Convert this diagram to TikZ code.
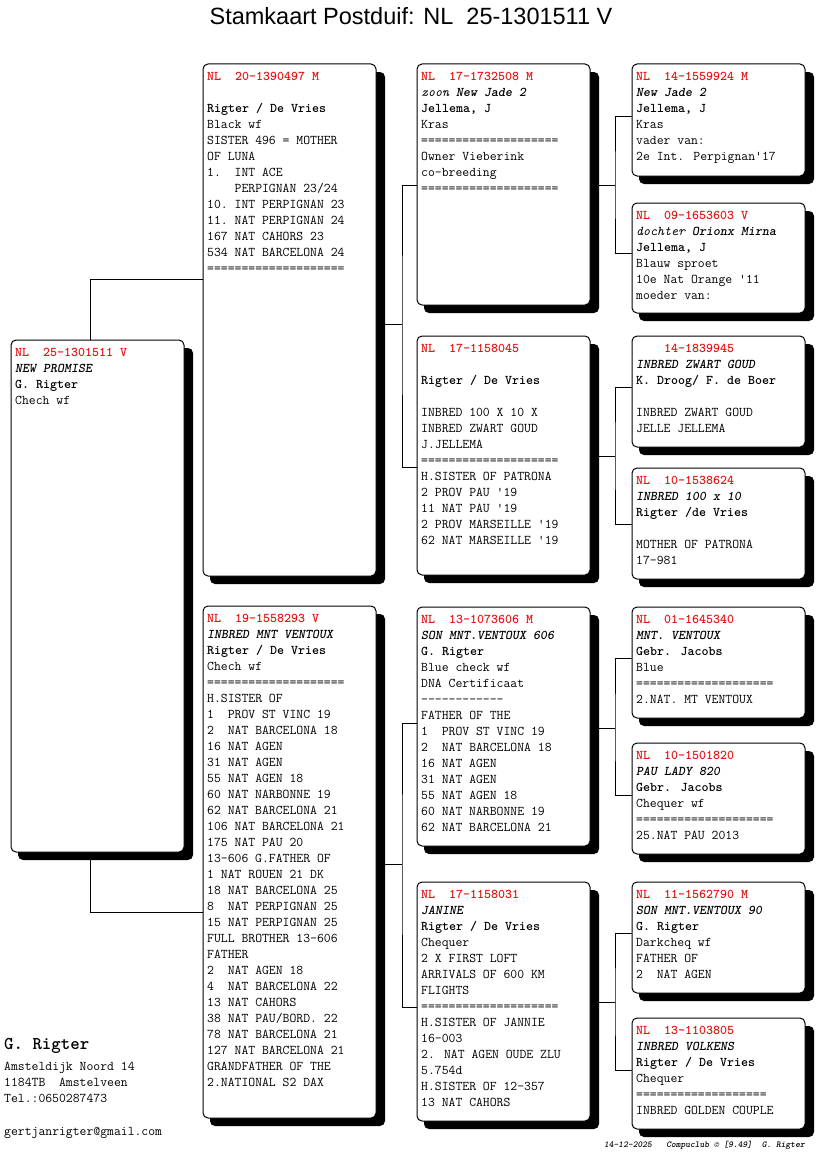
\documentclass[tikz,border=0pt]{standalone}
\usepackage{fontspec}
\setmainfont{Liberation Sans}
\definecolor{pred}{RGB}{228,18,18}
\pgfdeclarelayer{bg}
\pgfsetlayers{bg,main}
\newcommand\rd[1]{{\color{pred}\bfseries #1}}
\newcommand\bi[1]{{\bfseries\itshape #1}}
\newcommand\bd[1]{{\bfseries #1}}
\newcommand\ii[1]{{\itshape #1}}
\newcommand\dashline{-{}-{}-{}-{}-{}-{}-{}-{}-{}-{}-{}-}
\tikzset{
  cardbox/.style={draw=black, line width=1pt, fill=white, rounded corners=5pt, anchor=north west, minimum width=173pt, inner sep=0pt, outer sep=0pt},
  shadowbox/.style={fill=black, rounded corners=5pt},
  cardtext/.style={anchor=north west, inner sep=0pt, align=left, font=\ttfamily\fontsize{13.33}{16}\selectfont},
  link/.style={draw=black, line width=1pt},
  smalltext/.style={anchor=base west, inner sep=0pt, font=\ttfamily\fontsize{13.33}{16}\selectfont},
}
% name, x, ytop, ybottom, text
\newcommand\pcard[5]{%
  \fill[shadowbox] (#2+7,#3+8) rectangle (#2+182,#4+8);
  \node[cardbox, minimum height={#4-#3}] (#1) at (#2,#3) {};
  \node[cardtext] (#1-t) at (#2+4,#3+6) {\rule{0pt}{10pt}#5};
}
\begin{document}
\begin{tikzpicture}[x=1pt,y=-1pt]
\useasboundingbox (0,0) rectangle (816,1172);

\node[anchor=base, inner sep=0pt, font=\fontsize{23.5}{27}\selectfont] (title) at (411,25) {Stamkaart Postduif: NL~~25-1301511 V};

% subject
\pcard{s}{11}{340}{852}{\rd{NL~~25-1301511 V}\\ \bi{NEW PROMISE}\\ \bd{G. Rigter}\\ Chech wf}

% parents
\pcard{f}{203}{64}{576}{\rd{NL~~20-1390497 M}\\[16pt] \bd{Rigter / De Vries}\\ Black wf\\ SISTER 496 = MOTHER\\ OF LUNA\\ 1.~~INT ACE\\ ~~~~PERPIGNAN 23/24\\ 10.~INT PERPIGNAN 23\\ 11.~NAT PERPIGNAN 24\\ 167 NAT CAHORS 23\\ 534 NAT BARCELONA 24\\ ====================}

\pcard{m}{203}{606}{1118}{\rd{NL~~19-1558293 V}\\ \bi{INBRED MNT VENTOUX}\\ \bd{Rigter / De Vries}\\ Chech wf\\ ====================\\ H.SISTER OF\\ 1~~PROV ST VINC 19\\ 2~~NAT BARCELONA 18\\ 16 NAT AGEN\\ 31 NAT AGEN\\ 55 NAT AGEN 18\\ 60 NAT NARBONNE 19\\ 62 NAT BARCELONA 21\\ 106 NAT BARCELONA 21\\ 175 NAT PAU 20\\ 13-606 G.FATHER OF\\ 1 NAT ROUEN 21 DK\\ 18 NAT BARCELONA 25\\ 8~~NAT PERPIGNAN 25\\ 15 NAT PERPIGNAN 25\\ FULL BROTHER 13-606\\ FATHER\\ 2~~NAT AGEN 18\\ 4~~NAT BARCELONA 22\\ 13 NAT CAHORS\\ 38 NAT PAU/BORD. 22\\ 78 NAT BARCELONA 21\\ 127 NAT BARCELONA 21\\ GRANDFATHER OF THE\\ 2.NATIONAL S2 DAX}

% grandparents
\pcard{b1}{417}{64}{305}{\rd{NL~~17-1732508 M}\\ \ii{zoon} \bi{New Jade 2}\\ \bd{Jellema, J}\\ Kras\\ ====================\\ Owner Vieberink\\ co-breeding\\ ====================}

\pcard{b2}{417}{336}{575}{\rd{NL~~17-1158045}\\[16pt] \bd{Rigter / De Vries}\\[16pt] INBRED 100 X 10 X\\ INBRED ZWART GOUD\\ J.JELLEMA\\ ====================\\ H.SISTER OF PATRONA\\ 2 PROV PAU '19\\ 11 NAT PAU '19\\ 2 PROV MARSEILLE '19\\ 62 NAT MARSEILLE '19}

\pcard{b3}{417}{607}{846}{\rd{NL~~13-1073606 M}\\ \bi{SON MNT.VENTOUX 606}\\ \bd{G. Rigter}\\ Blue check wf\\ DNA Certificaat\\ \dashline\\ FATHER OF THE\\ 1~~PROV ST VINC 19\\ 2~~NAT BARCELONA 18\\ 16 NAT AGEN\\ 31 NAT AGEN\\ 55 NAT AGEN 18\\ 60 NAT NARBONNE 19\\ 62 NAT BARCELONA 21}

\pcard{b4}{417}{882}{1121}{\rd{NL~~17-1158031}\\ \bi{JANINE}\\ \bd{Rigter / De Vries}\\ Chequer\\ 2 X FIRST LOFT\\ ARRIVALS OF 600 KM\\ FLIGHTS\\ ====================\\ H.SISTER OF JANNIE\\ 16-003\\ 2. NAT AGEN OUDE ZLU\\ 5.754d\\ H.SISTER OF 12-357\\ 13 NAT CAHORS}

% great-grandparents
\pcard{c1}{632}{64}{176}{\rd{NL~~14-1559924 M}\\ \bi{New Jade 2}\\ \bd{Jellema, J}\\ Kras\\ vader van:\\ 2e Int. Perpignan'17}
\pcard{c2}{632}{203}{313}{\rd{NL~~09-1653603 V}\\ \ii{dochter} \bi{Orionx Mirna}\\ \bd{Jellema, J}\\ Blauw sproet\\ 10e Nat Orange '11\\ moeder van:}
\pcard{c3}{632}{336}{447}{\rd{~~~~14-1839945}\\ \bi{INBRED ZWART GOUD}\\ \bd{K. Droog/ F. de Boer}\\[16pt] INBRED ZWART GOUD\\ JELLE JELLEMA}
\pcard{c4}{632}{468}{579}{\rd{NL~~10-1538624}\\ \bi{INBRED 100 x 10}\\ \bd{Rigter /de Vries}\\[16pt] MOTHER OF PATRONA\\ 17-981}
\pcard{c5}{632}{607}{718}{\rd{NL~~01-1645340}\\ \bi{MNT. VENTOUX}\\ \bd{Gebr. Jacobs}\\ Blue\\ ====================\\ 2.NAT. MT VENTOUX}
\pcard{c6}{632}{743}{854}{\rd{NL~~10-1501820}\\ \bi{PAU LADY 820}\\ \bd{Gebr. Jacobs}\\ Chequer wf\\ ====================\\ 25.NAT PAU 2013}
\pcard{c7}{632}{882}{993}{\rd{NL~~11-1562790 M}\\ \bi{SON MNT.VENTOUX 90}\\ \bd{G. Rigter}\\ Darkcheq wf\\ FATHER OF\\ 2~~NAT AGEN}
\pcard{c8}{632}{1018}{1129}{\rd{NL~~13-1103805}\\ \bi{INBRED VOLKENS}\\ \bd{Rigter / De Vries}\\ Chequer\\ ===================\\ INBRED GOLDEN COUPLE}

% junction points
\coordinate (sjt) at (90,279);
\coordinate (sjb) at (90,912);
\coordinate (fj) at (402,324);
\coordinate (mj) at (402,864);
\coordinate (j1) at (615,185);
\coordinate (j2) at (615,456);
\coordinate (j3) at (615,728);
\coordinate (j4) at (615,1002);

\begin{pgfonlayer}{bg}
\draw[link] (s.north -| sjt) -- (sjt) -- (f.west |- sjt);
\draw[link] (s.south -| sjb) -- (sjb) -- (m.west |- sjb);
\draw[link] (f.east |- fj) -- (fj);
\draw[link] (b1.west |- 0,185) -| (fj) |- (b2.west |- 0,467);
\draw[link] (m.east |- mj) -- (mj);
\draw[link] (b3.west |- 0,723) -| (mj) |- (b4.west |- 0,1007);
\draw[link] (b1.east |- j1) -- (j1);
\draw[link] (c1.west |- 0,116) -| (j1) |- (c2.west |- 0,253);
\draw[link] (b2.east |- j2) -- (j2);
\draw[link] (c3.west |- 0,387) -| (j2) |- (c4.west |- 0,524);
\draw[link] (b3.east |- j3) -- (j3);
\draw[link] (c5.west |- 0,658) -| (j3) |- (c6.west |- 0,795);
\draw[link] (b4.east |- j4) -- (j4);
\draw[link] (c7.west |- 0,933) -| (j4) |- (c8.west |- 0,1070);
\end{pgfonlayer}

% owner block
\node[anchor=base west, inner sep=0pt, font=\ttfamily\bfseries\fontsize{18}{20}\selectfont] (owner) at (4,1049) {G. Rigter};
\node[smalltext] (addr1) at (4,1070) {Amsteldijk Noord 14};
\node[smalltext] (addr2) at (4,1086) {1184TB~~Amstelveen};
\node[smalltext] (addr3) at (4,1102) {Tel.:0650287473};
\node[smalltext] (mail) at (4,1135) {gertjanrigter@gmail.com};

\node[anchor=base east, inner sep=0pt, font=\ttfamily\bfseries\itshape\fontsize{9.1}{10}\selectfont] (foot) at (805,1147) {14-12-2025~~~Compuclub ©~[9.49]~~G.~Rigter};
\end{tikzpicture}
\end{document}
